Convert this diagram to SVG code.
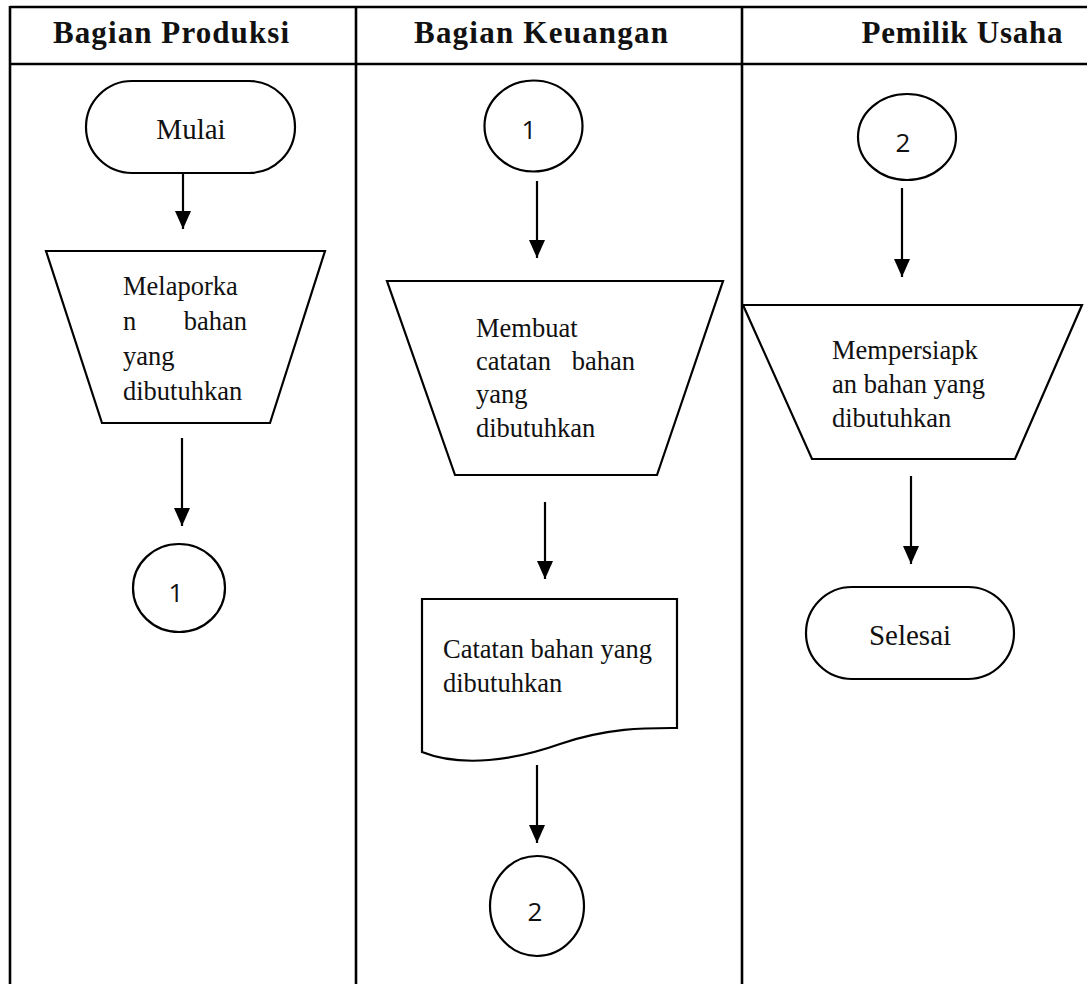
<svg xmlns="http://www.w3.org/2000/svg" width="1087" height="984" viewBox="0 0 1087 984">
  <defs>
    <marker id="arrow" markerWidth="18" markerHeight="16" refX="18" refY="8" orient="auto" markerUnits="userSpaceOnUse" viewBox="0 0 18 16">
      <path d="M0,0 L18,8 L0,16 Z" fill="#000"/>
    </marker>
    <style>
      .grid { stroke: #000; stroke-width: 2.6; fill: none; }
      .shape { stroke: #000; stroke-width: 2.2; fill: #fff; }
      .flow { stroke: #000; stroke-width: 2.2; fill: none; }
      .head { font-family: "Liberation Serif", "Times New Roman", serif; font-weight: bold; font-size: 31px; fill: #111; }
      .body { font-family: "Liberation Serif", "Times New Roman", serif; font-size: 26.5px; fill: #111; }
      .term { font-family: "Liberation Serif", "Times New Roman", serif; font-size: 29px; fill: #111; }
      .num { font-family: "Open Sans", "Liberation Sans", sans-serif; font-size: 26px; fill: #111; }
    </style>
  </defs>
  <rect width="1087" height="984" fill="#fff"/>

  <!-- swimlane table -->
  <g id="table">
    <line class="grid" x1="10" y1="7" x2="1087" y2="7"/>
    <line class="grid" x1="10" y1="64" x2="1087" y2="64"/>
    <line class="grid" x1="10" y1="6" x2="10" y2="984"/>
    <line class="grid" x1="356" y1="6" x2="356" y2="984"/>
    <line class="grid" x1="742" y1="6" x2="742" y2="984"/>
    <text class="head" x="171" y="43" text-anchor="middle" textLength="236">Bagian Produksi</text>
    <text class="head" x="541" y="43" text-anchor="middle" textLength="254">Bagian Keuangan</text>
    <text class="head" x="962" y="43" text-anchor="middle" textLength="201">Pemilik Usaha</text>
  </g>

  <!-- connectors -->
  <g id="connectors">
    <line class="flow" x1="183" y1="174" x2="183" y2="229" marker-end="url(#arrow)"/>
    <line class="flow" x1="182" y1="438" x2="182" y2="526" marker-end="url(#arrow)"/>
    <line class="flow" x1="537" y1="181" x2="537" y2="258" marker-end="url(#arrow)"/>
    <line class="flow" x1="545" y1="502" x2="545" y2="579" marker-end="url(#arrow)"/>
    <line class="flow" x1="537" y1="765" x2="537" y2="843" marker-end="url(#arrow)"/>
    <line class="flow" x1="902" y1="188" x2="902" y2="277" marker-end="url(#arrow)"/>
    <line class="flow" x1="911" y1="476" x2="911" y2="564" marker-end="url(#arrow)"/>
  </g>

  <!-- Bagian Produksi -->
  <g id="mulai">
    <rect class="shape" x="86" y="81" width="209" height="92" rx="46" ry="46"/>
    <text class="term" x="191" y="139" text-anchor="middle">Mulai</text>
  </g>
  <g id="melaporkan">
    <polygon class="shape" points="46,251 325,251 270,423 102,423"/>
    <text class="body" x="123" y="295">Melaporka</text>
    <text class="body" x="123" y="330">n</text>
    <text class="body" x="247" y="330" text-anchor="end">bahan</text>
    <text class="body" x="123" y="365">yang</text>
    <text class="body" x="123" y="400">dibutuhkan</text>
  </g>
  <g id="konektor-1a">
    <ellipse class="shape" cx="179" cy="588" rx="46" ry="44"/>
    <text class="num" x="176" y="602" text-anchor="middle">1</text>
  </g>

  <!-- Bagian Keuangan -->
  <g id="konektor-1b">
    <ellipse class="shape" cx="533.5" cy="126" rx="49" ry="45.5"/>
    <text class="num" x="529" y="139" text-anchor="middle">1</text>
  </g>
  <g id="membuat-catatan">
    <polygon class="shape" points="387,281 723,281 657,475 455,475"/>
    <text class="body" x="476" y="337">Membuat</text>
    <text class="body" x="476" y="370">catatan</text>
    <text class="body" x="635" y="370" text-anchor="end">bahan</text>
    <text class="body" x="476" y="403">yang</text>
    <text class="body" x="476" y="437">dibutuhkan</text>
  </g>
  <g id="dokumen-catatan">
    <path class="shape" d="M422,599 L677,599 L677,728 C650,728 610,727 560,744 C515,760 462,768 422,752 Z"/>
    <text class="body" x="443" y="658">Catatan bahan yang</text>
    <text class="body" x="443" y="692">dibutuhkan</text>
  </g>
  <g id="konektor-2a">
    <ellipse class="shape" cx="537" cy="906" rx="47" ry="50"/>
    <text class="num" x="535" y="921" text-anchor="middle">2</text>
  </g>

  <!-- Pemilik Usaha -->
  <g id="konektor-2b">
    <ellipse class="shape" cx="907" cy="137" rx="49" ry="43"/>
    <text class="num" x="903" y="152" text-anchor="middle">2</text>
  </g>
  <g id="mempersiapkan">
    <polygon class="shape" points="743,305 1082,305 1015,459 812,459"/>
    <text class="body" x="832" y="359">Mempersiapk</text>
    <text class="body" x="832" y="393">an bahan yang</text>
    <text class="body" x="832" y="427">dibutuhkan</text>
  </g>
  <g id="selesai">
    <rect class="shape" x="806" y="587" width="208" height="92" rx="46" ry="46"/>
    <text class="term" x="910" y="645" text-anchor="middle">Selesai</text>
  </g>
</svg>
